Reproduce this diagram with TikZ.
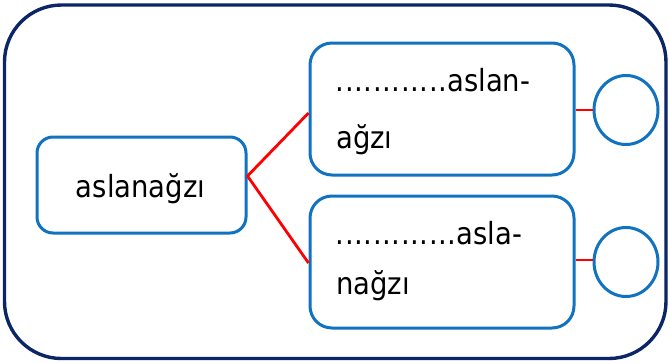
\documentclass[tikz,border=0pt]{standalone}
\usepackage{fontspec}
\setmainfont{DejaVu Sans Condensed}
\usetikzlibrary{shapes.geometric}
\newcommand\pd{\makebox[9.3pt][c]{.}}
\tikzset{
  outerbox/.style={draw=navyc, line width=3.4pt, rounded corners=57pt},
  bluebox/.style={draw=bluec, line width=3pt, rounded corners=#1, inner sep=0pt},
  bluecirc/.style={draw=bluec, line width=3pt, ellipse, minimum width=64pt, minimum height=69pt, inner sep=0pt},
  redline/.style={draw=red, line width=2.8pt},
  lbl/.style={font=\fontsize{30.5}{31}\selectfont, inner sep=0pt, text=black}
}
\definecolor{navyc}{HTML}{0B2566}
\definecolor{bluec}{HTML}{1172C0}
\begin{document}
\begin{tikzpicture}[x=1pt,y=-1pt]
\useasboundingbox (0,0) rectangle (670,362);
\draw[outerbox] (4.5,5) rectangle (666,358.5);
\node[bluebox=16pt, minimum width=209pt, minimum height=96pt] (L) at (141.5,185) {};
\node[bluebox=22pt, minimum width=264pt, minimum height=132pt] (T) at (442,109) {};
\node[bluebox=22pt, minimum width=264pt, minimum height=132pt] (B) at (442,262) {};
\node[bluecirc] (C1) at (626,110) {};
\node[bluecirc] (C2) at (626,262) {};
\draw[redline] ([yshift=9pt]L.east) -- ([yshift=-4pt]T.west);
\draw[redline] ([yshift=9pt]L.east) -- ([yshift=-1pt]B.west);
\draw[redline] ([yshift=-1pt]T.east) -- (C1.west);
\draw[redline] ([yshift=2pt]B.east) -- ([yshift=2pt]C2.west);
\node[lbl, anchor=base] (t0) at (140.5,197) {aslanağzı};
\node[lbl, anchor=base west] (t1) at (335.5,91) {\pd\pd\pd\pd\pd\pd\pd\pd\pd\pd\pd\pd aslan-};
\node[lbl, anchor=base west] (t2) at (336,148) {ağzı};
\node[lbl, anchor=base west] (t3) at (335.5,244) {\pd\pd\pd\pd\pd\pd\pd\pd\pd\pd\pd\pd\pd asla-};
\node[lbl, anchor=base west] (t4) at (336,294) {nağzı};
\end{tikzpicture}
\end{document}
